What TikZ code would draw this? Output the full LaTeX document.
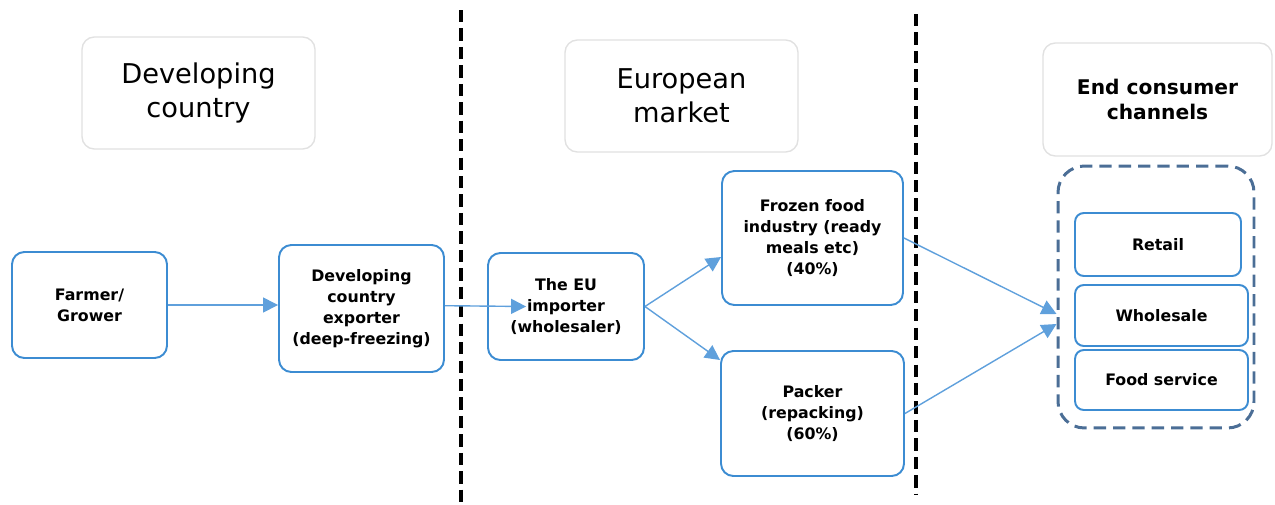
\documentclass[tikz,border=0pt]{standalone}
\usepackage{fontspec}
\setmainfont{DejaVu Sans}
\usetikzlibrary{arrows.meta}

\definecolor{boxblue}{RGB}{60,140,210}
\definecolor{arrowblue}{RGB}{95,160,220}
\definecolor{headgray}{RGB}{225,225,225}
\definecolor{groupblue}{RGB}{75,110,150}

\tikzset{
  stage/.style={draw=boxblue, line width=1.1pt, rounded corners=7pt, align=center,
    font=\fontsize{9}{12}\selectfont\bfseries, inner sep=2pt},
  header/.style={draw=headgray, line width=0.8pt, rounded corners=7pt, align=center,
    minimum width=4.66cm, minimum height=2.24cm},
  flow/.style={draw=arrowblue, line width=0.8pt, -{Triangle[length=8.5pt,width=8.5pt]}},
  divider/.style={line width=2pt, dash pattern=on 7pt off 3.5pt},
  group/.style={draw=groupblue, line width=1.7pt, dash pattern=on 7pt off 4pt, rounded corners=15pt}
}

\begin{document}
\begin{tikzpicture}[x=0.02cm, y=-0.02cm]
  \useasboundingbox (0,0) rectangle (1275,504);

  % Section headers
  \node[header, font=\fontsize{15.5}{19.3}\selectfont] (hdev) at (198.5,93) {Developing\\country};
  \node[header, font=\fontsize{15.5}{19.3}\selectfont] (heu) at (681.5,96) {European\\market};
  \node[header, font=\fontsize{11.5}{14.7}\selectfont\bfseries, minimum width=4.58cm, minimum height=2.26cm] (hend) at (1157.5,99.5) {End consumer\\channels};

  % Dashed dividers
  \draw[divider] (461,10) -- (461,504);
  \draw[divider] (916,14) -- (916,494);

  % Supply chain boxes
  \node[stage, minimum width=3.1cm, minimum height=2.12cm] (farmer) at (89.5,305) {Farmer/\\Grower};
  \node[stage, minimum width=3.3cm, minimum height=2.54cm] (exporter) at (361.5,308.5) {Developing\\country\\exporter\\(deep-freezing)};
  \node[stage, minimum width=3.12cm, minimum height=2.14cm] (importer) at (566,306.5) {The EU\\importer\\(wholesaler)};
  \node[stage, minimum width=3.62cm, minimum height=2.68cm] (frozen) at (812.5,238) {Frozen food\\industry (ready\\meals etc)\\(40\%)};
  \node[stage, minimum width=3.66cm, minimum height=2.5cm] (packer) at (812.5,413.5) {Packer\\(repacking)\\(60\%)};

  % Consumer channels
  \node[group, minimum width=3.92cm, minimum height=5.24cm] (channels) at (1156,297) {};
  \foreach \name/\x/\y/\w/\h/\txt in {retail/1158/244.5/3.32/1.26/Retail,
      wholesale/1161.5/315.5/3.46/1.22/Wholesale,
      foodservice/1161.5/380/3.46/1.2/Food service}
    \node[stage, rounded corners=5pt, minimum width=\w cm, minimum height=\h cm] (\name) at (\x,\y) {\txt};

  % Flows
  \draw[flow] (farmer.east) -- (farmer.east -| exporter.west);
  \draw[flow] ([yshift=0.056cm]exporter.east) -- ([xshift=0.78cm]importer.west);
  \draw[flow] (importer.east) -- ([yshift=-0.38cm]frozen.west);
  \draw[flow] (importer.east) -- ([yshift=1.07cm]packer.west);
  \draw[flow] (frozen.east) -- ([yshift=-0.34cm]channels.west);
  \draw[flow] (packer.east) -- ([yshift=-0.54cm]channels.west);
\end{tikzpicture}
\end{document}
